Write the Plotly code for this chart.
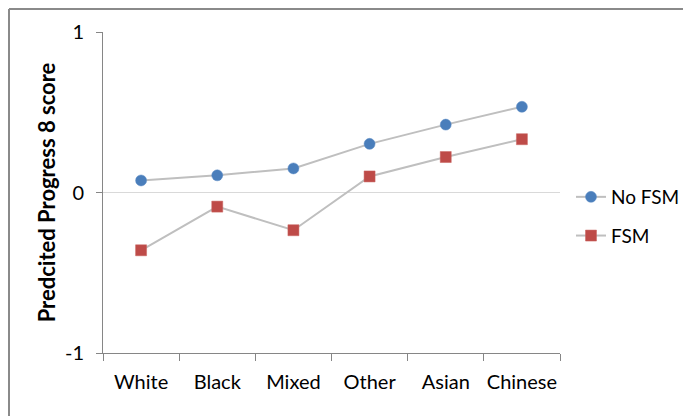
import plotly.graph_objects as go

categories = ["White", "Black", "Mixed", "Other", "Asian", "Chinese"]
no_fsm = [0.075, 0.107, 0.15, 0.303, 0.423, 0.534]
fsm = [-0.36, -0.088, -0.235, 0.10, 0.221, 0.332]
y_ticks = [-1, 0, 1]
y_tick_labels = ["-1", "0", "1"]

# page body has an 8px margin, so the figure is drawn from (8, 8)
W, H = 683, 408
L, T = 95, 24
pw, ph = 457, 321
R, B = W - L - pw, H - T - ph

FONT = "Lato, 'Open Sans', sans-serif"

fig = go.Figure()
fig.add_trace(go.Scatter(
    x=categories, y=no_fsm, name="No FSM", mode="lines+markers",
    line=dict(color="#bfbfbf", width=2),
    marker=dict(symbol="circle", size=11, color="#4a7ebb", line=dict(color="#5b8ac4", width=0.5)),
    legendgroup="a",
))
fig.add_trace(go.Scatter(
    x=categories, y=fsm, name="FSM", mode="lines+markers",
    line=dict(color="#bfbfbf", width=2),
    marker=dict(symbol="square", size=11, color="#be4b48", line=dict(color="#c9625f", width=0.5)),
    legendgroup="b",
))

# outer chart border (only top and left edges are visible in the picture)
bx = (1 - L) / pw
by = 1 + (T - 1) / ph
fig.add_shape(type="line", xref="paper", yref="paper", x0=bx, x1=(W - L) / pw, y0=by, y1=by,
              line=dict(color="#8a8a8a", width=2), layer="below")
fig.add_shape(type="line", xref="paper", yref="paper", x0=bx, x1=bx, y0=by, y1=-B / ph,
              line=dict(color="#8a8a8a", width=2), layer="below")

fig.update_layout(
    width=W, height=H,
    margin=dict(l=L, r=R, t=T, b=B, autoexpand=False),
    paper_bgcolor="white", plot_bgcolor="white",
    font=dict(family=FONT, size=20, color="#000000"),
    showlegend=True,
    legend=dict(x=(563 - L) / pw, y=1 - (170 - T) / ph, xanchor="left", yanchor="top",
                font=dict(size=19), tracegroupgap=11, bgcolor="rgba(0,0,0,0)"),
    xaxis=dict(
        type="category", range=[-0.5, 5.5], showline=True, linecolor="#868686", linewidth=1,
        ticks="outside", ticklen=7, tickcolor="#868686", tickson="boundaries",
        showgrid=False, zeroline=False, tickfont=dict(size=20), ticklabelstandoff=11,
        tickangle=0, automargin=False,
    ),
    yaxis=dict(
        range=[-1, 1], tickvals=y_ticks, ticktext=y_tick_labels,
        showline=True, linecolor="#868686", linewidth=1,
        ticks="outside", ticklen=6, tickcolor="#868686",
        showgrid=True, gridcolor="#d9d9d9", gridwidth=1, zeroline=False,
        tickfont=dict(size=20), ticklabelstandoff=8, automargin=False,
        title=dict(text="<b>Predcited Progress 8 score</b>", font=dict(size=22), standoff=3),
    ),
)

fig.write_html("out.html")
